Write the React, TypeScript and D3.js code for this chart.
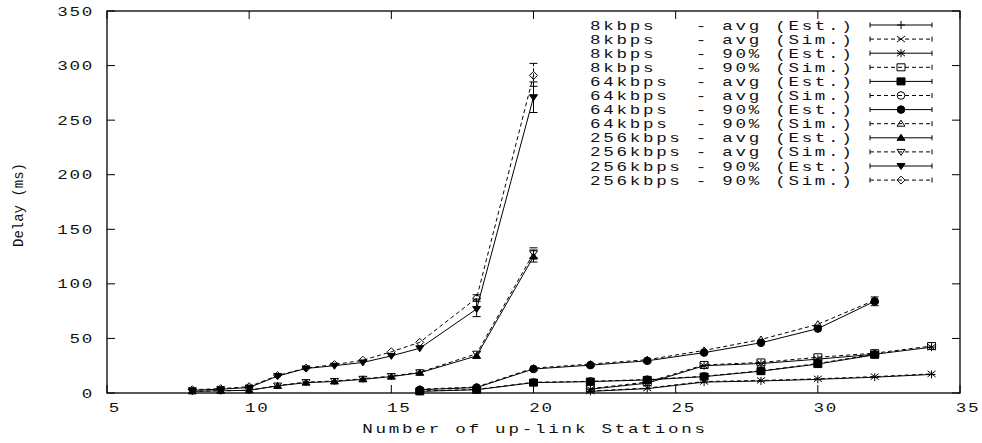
import React from "react";
import * as d3 from "d3";

// x positions (number of up-link stations)
const x256 = [8, 9, 10, 11, 12, 13, 14, 15, 16, 18, 20];
const x64 = [16, 18, 20, 22, 24, 26, 28, 30, 32];
const x8 = [22, 24, 26, 28, 30, 32, 34];

// delays (ms)
const kbps8AvgEst = [1.5, 4, 10, 11, 12.5, 14.5, 17];
const kbps8AvgSim = [1.8, 4.5, 10.5, 11.5, 13, 15, 17.5];
const kbps8P90Est = [3.5, 9, 25, 27, 31, 35.5, 42];
const kbps8P90Sim = [4, 10, 25.7, 28, 32.7, 36.5, 43];
const kbps64AvgEst = [1.5, 3, 9.5, 10.4, 12, 15, 20, 26.5, 35];
const kbps64AvgSim = [1.8, 3.3, 9.8, 10.7, 12.3, 15.3, 20.3, 27, 35.5];
const kbps64P90Est = [3, 5, 22, 25.5, 29.5, 37, 46, 59, 84];
const kbps64P90Sim = [3.5, 5.5, 22.8, 26.5, 30.5, 39, 49, 63, 85];
const kbps256AvgEst = [1.5, 2, 2.5, 6.5, 9.5, 10.5, 12.5, 15, 18.5, 34, 125];
const kbps256AvgSim = [1.5, 2, 2.5, 6.8, 10, 11, 13, 15.5, 19, 36, 128];
const kbps256P90Est = [2.5, 3.5, 5, 15.5, 22.5, 25, 28, 34, 41, 77, 271];
const kbps256P90Sim = [3, 4, 5.8, 16, 22.8, 26, 30, 37.8, 46.4, 87, 291];

const labels = [
  "8kbps   - avg (Est.)",
  "8kbps   - avg (Sim.)",
  "8kbps   - 90% (Est.)",
  "8kbps   - 90% (Sim.)",
  "64kbps  - avg (Est.)",
  "64kbps  - avg (Sim.)",
  "64kbps  - 90% (Est.)",
  "64kbps  - 90% (Sim.)",
  "256kbps - avg (Est.)",
  "256kbps - avg (Sim.)",
  "256kbps - 90% (Est.)",
  "256kbps - 90% (Sim.)",
];

// visible error bars: [series index, x, low, high]
const errorBars: [number, number, number, number][] = [
  [6, 32, 80, 88],
  [8, 20, 120, 131],
  [9, 20, 124, 133],
  [10, 18, 70, 86],
  [11, 18, 84, 90],
  [10, 20, 257, 285],
  [11, 20, 281, 302],
];

const xTicks = [5, 10, 15, 20, 25, 30, 35];
const yTicks = [0, 50, 100, 150, 200, 250, 300, 350];

const series = [
  { xs: x8, ys: kbps8AvgEst, dashed: false, marker: "plus" },
  { xs: x8, ys: kbps8AvgSim, dashed: true, marker: "cross" },
  { xs: x8, ys: kbps8P90Est, dashed: false, marker: "star" },
  { xs: x8, ys: kbps8P90Sim, dashed: true, marker: "box" },
  { xs: x64, ys: kbps64AvgEst, dashed: false, marker: "fbox" },
  { xs: x64, ys: kbps64AvgSim, dashed: true, marker: "circle" },
  { xs: x64, ys: kbps64P90Est, dashed: false, marker: "fcircle" },
  { xs: x64, ys: kbps64P90Sim, dashed: true, marker: "tri" },
  { xs: x256, ys: kbps256AvgEst, dashed: false, marker: "ftri" },
  { xs: x256, ys: kbps256AvgSim, dashed: true, marker: "itri" },
  { xs: x256, ys: kbps256P90Est, dashed: false, marker: "fitri" },
  { xs: x256, ys: kbps256P90Sim, dashed: true, marker: "diamond" },
];

const W = 982, H = 443;
const left = 107, right = 960, top = 11, bottom = 393;
const font = "'Liberation Mono', 'DejaVu Sans Mono', monospace";
const stretch = 1.35; // gnuplot's wide monospace text

const Marker = ({ type, cx, cy }: { type: string; cx: number; cy: number }) => {
  const s = 4;
  const filled = type.startsWith("f");
  const fill = filled ? "#000" : "none";
  let d = "";
  switch (type) {
    case "plus":
      d = `M${cx - s},${cy}H${cx + s}M${cx},${cy - s}V${cy + s}`;
      break;
    case "cross":
      d = `M${cx - s},${cy - 3}L${cx + s},${cy + 3}M${cx - s},${cy + 3}L${cx + s},${cy - 3}`;
      break;
    case "star":
      d = `M${cx - s},${cy}H${cx + s}M${cx},${cy - s}V${cy + s}M${cx - s},${cy - 3}L${cx + s},${cy + 3}M${cx - s},${cy + 3}L${cx + s},${cy - 3}`;
      break;
    case "box":
    case "fbox":
      d = `M${cx - s},${cy - 3.5}H${cx + s}V${cy + 3.5}H${cx - s}Z`;
      break;
    case "circle":
    case "fcircle":
      return <circle cx={cx} cy={cy} r={3.8} fill={fill} stroke="#000" strokeWidth={1} />;
    case "tri":
    case "ftri":
      d = `M${cx},${cy - 3.5}L${cx + s},${cy + 2.5}L${cx - s},${cy + 2.5}Z`;
      break;
    case "itri":
    case "fitri":
      d = `M${cx},${cy + 3.5}L${cx + s},${cy - 2.5}L${cx - s},${cy - 2.5}Z`;
      break;
    case "diamond":
      d = `M${cx},${cy - s}L${cx + s},${cy}L${cx},${cy + s}L${cx - s},${cy}Z`;
      break;
  }
  return <path d={d} fill={fill} stroke="#000" strokeWidth={1} />;
};

// wide text: scaled horizontally around its anchor point
const Wide = ({ x, y, anchor, ls, children }: any) => (
  <text
    transform={`translate(${x},${y}) scale(${stretch},1)`}
    textAnchor={anchor}
    fontFamily={font}
    fontSize={13}
    letterSpacing={ls}
    fill="#111"
    style={{ whiteSpace: "pre" }}
  >
    {children}
  </text>
);

export default function App() {
  const x = d3.scaleLinear().domain([5, 35]).range([left, right]);
  const y = d3.scaleLinear().domain([0, 350]).range([bottom, top]);

  const line = d3
    .line<[number, number]>()
    .x((d) => x(d[0]))
    .y((d) => y(d[1]));

  return (
    <div style={{ position: "absolute", left: 0, top: 0 }}>
      <svg width={W} height={H} style={{ display: "block", background: "#fff" }}>
        {/* ticks, mirrored on all sides */}
        {yTicks.map((t) => (
          <g key={"y" + t}>
            <line x1={left} x2={left + 8} y1={y(t)} y2={y(t)} stroke="#000" />
            <line x1={right - 8} x2={right} y1={y(t)} y2={y(t)} stroke="#000" />
            <Wide x={94} y={y(t) + 4.5} anchor="end" ls={1.3}>
              {t}
            </Wide>
          </g>
        ))}
        {xTicks.map((t) => (
          <g key={"x" + t}>
            <line x1={x(t)} x2={x(t)} y1={bottom} y2={bottom - 8} stroke="#000" />
            <line x1={x(t)} x2={x(t)} y1={top} y2={top + 8} stroke="#000" />
            <Wide x={x(t) + 8} y={412} anchor="middle" ls={1.3}>
              {t}
            </Wide>
          </g>
        ))}

        {/* axis titles */}
        <text
          transform={`translate(23,205) rotate(-90)`}
          textAnchor="middle"
          fontFamily={font}
          fontSize={14}
          fill="#111"
        >
          Delay (ms)
        </text>
        <Wide x={535} y={433} anchor="middle" ls={2.05}>
          Number of up-link Stations
        </Wide>

        {/* series */}
        {series.map((s, i) => {
          const pts = s.xs.map((xv, j) => [xv, s.ys[j]] as [number, number]);
          return (
            <g key={"s" + i}>
              <path
                d={line(pts) || ""}
                fill="none"
                stroke="#000"
                strokeWidth={1}
                strokeDasharray={s.dashed ? "4,3" : undefined}
              />
              {errorBars
                .filter((e) => e[0] === i)
                .map((e, k) => (
                  <g key={k} stroke="#000" strokeWidth={1}>
                    <line
                      x1={x(e[1])}
                      x2={x(e[1])}
                      y1={y(e[2])}
                      y2={y(e[3])}
                      strokeDasharray={s.dashed ? "3,2" : undefined}
                    />
                    <line x1={x(e[1]) - 4} x2={x(e[1]) + 4} y1={y(e[2])} y2={y(e[2])} />
                    <line x1={x(e[1]) - 4} x2={x(e[1]) + 4} y1={y(e[3])} y2={y(e[3])} />
                  </g>
                ))}
              {pts.map((p, j) => (
                <Marker key={j} type={s.marker} cx={x(p[0])} cy={y(p[1])} />
              ))}
            </g>
          );
        })}

        {/* legend */}
        {series.map((s, i) => {
          const cy = 25 + i * 14.1;
          return (
            <g key={"l" + i}>
              <Wide x={590} y={cy + 4.5} anchor="start" ls={2.0}>
                {labels[i]}
              </Wide>
              <line
                x1={870}
                x2={932}
                y1={cy}
                y2={cy}
                stroke="#000"
                strokeDasharray={s.dashed ? "4,3" : undefined}
              />
              <line x1={870} x2={870} y1={cy - 2.5} y2={cy + 2.5} stroke="#000" />
              <line x1={932} x2={932} y1={cy - 2.5} y2={cy + 2.5} stroke="#000" />
              <Marker type={s.marker} cx={901} cy={cy} />
            </g>
          );
        })}

        {/* frame */}
        <rect
          x={left}
          y={top}
          width={right - left}
          height={bottom - top}
          fill="none"
          stroke="#000"
          strokeWidth={1.3}
        />
      </svg>
    </div>
  );
}
